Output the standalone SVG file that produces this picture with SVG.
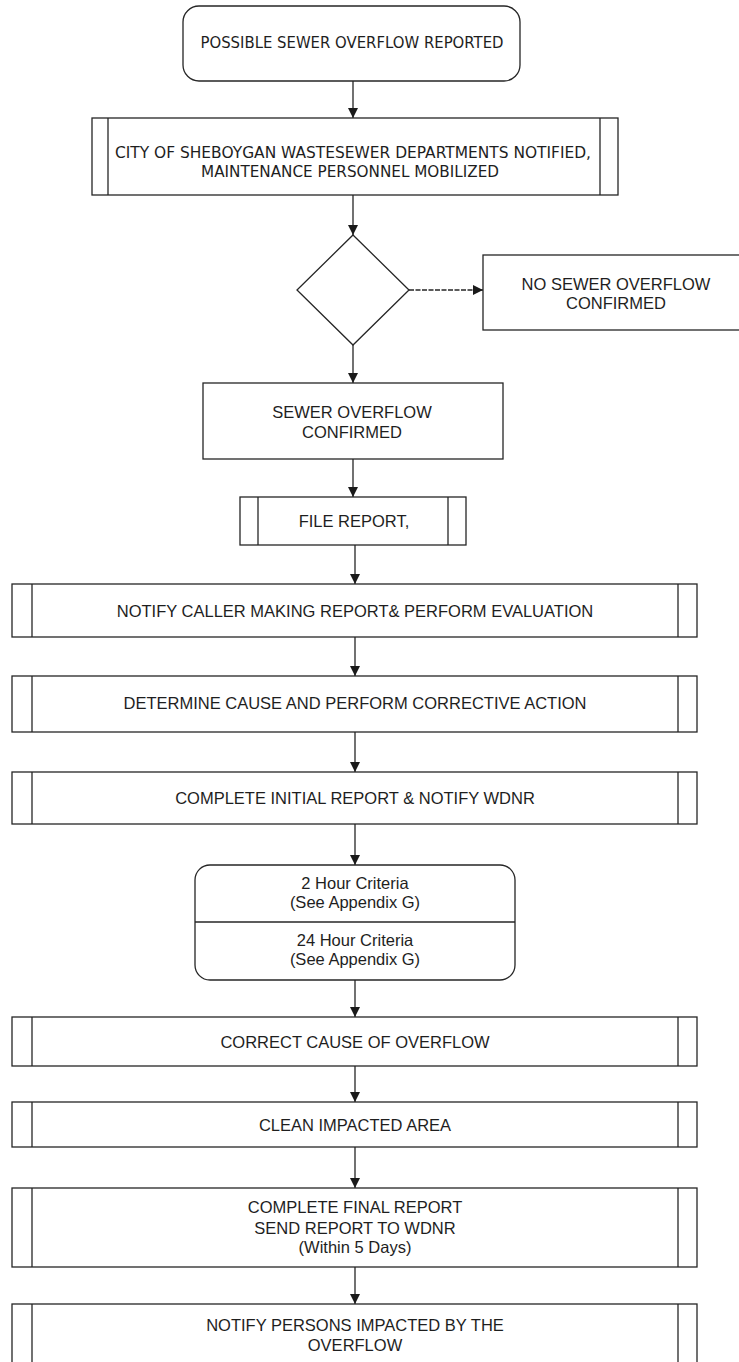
<svg xmlns="http://www.w3.org/2000/svg" width="739" height="1362" viewBox="0 0 739 1362">
<defs>
<marker id="ah" viewBox="0 0 10 10" refX="10" refY="5" markerWidth="10" markerHeight="10" markerUnits="userSpaceOnUse" orient="auto">
<path d="M0,0 L10,5 L0,10 Z" fill="#1a1a1a"/>
</marker>
<style>
.box{fill:#fff;stroke:#262626;stroke-width:1.3}
.ln{fill:none;stroke:#262626;stroke-width:1.3}
.c{stroke:#262626;stroke-width:1.3;fill:none;marker-end:url(#ah)}
.t{font-family:"Liberation Sans",Arial,sans-serif;font-size:16.5px;fill:#1e1e1e;text-anchor:middle}
.g{font-family:"DejaVu Sans","Liberation Sans",sans-serif;font-size:15px;fill:#1e1e1e;text-anchor:middle}
</style>
</defs>
<rect width="739" height="1362" fill="#fff"/>
<g id="connectors">
<line class="c" x1="353" y1="81" x2="353" y2="118"/>
<line class="c" x1="353" y1="195" x2="353" y2="235"/>
<line class="c" x1="409" y1="290" x2="483" y2="290" stroke-dasharray="5,1.5"/>
<line class="c" x1="353" y1="345" x2="353" y2="383"/>
<line class="c" x1="353" y1="459" x2="353" y2="497"/>
<line class="c" x1="355" y1="545" x2="355" y2="584"/>
<line class="c" x1="355" y1="637" x2="355" y2="676"/>
<line class="c" x1="355" y1="732" x2="355" y2="772"/>
<line class="c" x1="355" y1="824" x2="355" y2="865"/>
<line class="c" x1="355" y1="980" x2="355" y2="1017"/>
<line class="c" x1="355" y1="1066" x2="355" y2="1102"/>
<line class="c" x1="355" y1="1147" x2="355" y2="1188"/>
<line class="c" x1="355" y1="1267" x2="355" y2="1304"/>
</g>
<g id="start">
<rect class="box" x="183" y="6" width="337" height="75" rx="16"/>
<text class="g" x="352" y="48" textLength="303" lengthAdjust="spacingAndGlyphs">POSSIBLE SEWER OVERFLOW REPORTED</text>
</g>
<g id="notified">
<rect class="box" x="92" y="118" width="526" height="77"/>
<line class="ln" x1="108" y1="118" x2="108" y2="195"/>
<line class="ln" x1="600" y1="118" x2="600" y2="195"/>
<text class="g" x="353" y="158" textLength="476" lengthAdjust="spacingAndGlyphs">CITY OF SHEBOYGAN WASTESEWER DEPARTMENTS NOTIFIED,</text>
<text class="g" x="350" y="177" textLength="298" lengthAdjust="spacingAndGlyphs">MAINTENANCE PERSONNEL MOBILIZED</text>
</g>
<g id="decision">
<polygon class="box" points="353,235 409,290 353,345 297,290"/>
</g>
<g id="no-overflow">
<rect class="box" x="483" y="255" width="270" height="75"/>
<text class="t" x="616" y="290">NO SEWER OVERFLOW</text>
<text class="t" x="616" y="309">CONFIRMED</text>
</g>
<g id="overflow-confirmed">
<rect class="box" x="203" y="383" width="300" height="76"/>
<text class="t" x="352" y="418">SEWER OVERFLOW</text>
<text class="t" x="352" y="438">CONFIRMED</text>
</g>
<g id="file-report">
<rect class="box" x="240" y="497" width="226" height="48"/>
<line class="ln" x1="258" y1="497" x2="258" y2="545"/>
<line class="ln" x1="448" y1="497" x2="448" y2="545"/>
<text class="t" x="354" y="527">FILE REPORT,</text>
</g>
<g id="notify-caller">
<rect class="box" x="12" y="584" width="685" height="53"/>
<line class="ln" x1="32" y1="584" x2="32" y2="637"/>
<line class="ln" x1="678" y1="584" x2="678" y2="637"/>
<text class="t" x="355" y="617">NOTIFY CALLER MAKING REPORT&amp; PERFORM EVALUATION</text>
</g>
<g id="determine-cause">
<rect class="box" x="12" y="676" width="685" height="56"/>
<line class="ln" x1="32" y1="676" x2="32" y2="732"/>
<line class="ln" x1="678" y1="676" x2="678" y2="732"/>
<text class="t" x="355" y="709">DETERMINE CAUSE AND PERFORM CORRECTIVE ACTION</text>
</g>
<g id="initial-report">
<rect class="box" x="12" y="772" width="685" height="52"/>
<line class="ln" x1="32" y1="772" x2="32" y2="824"/>
<line class="ln" x1="678" y1="772" x2="678" y2="824"/>
<text class="t" x="355" y="804">COMPLETE INITIAL REPORT &amp; NOTIFY WDNR</text>
</g>
<g id="criteria">
<rect class="box" x="195" y="865" width="320" height="115" rx="15"/>
<line class="ln" x1="195" y1="922" x2="515" y2="922"/>
<text class="t" x="355" y="889" font-size="15.5">2 Hour Criteria</text>
<text class="t" x="355" y="908" font-size="15.5">(See Appendix G)</text>
<text class="t" x="355" y="946" font-size="15.5">24 Hour Criteria</text>
<text class="t" x="355" y="965" font-size="15.5">(See Appendix G)</text>
</g>
<g id="correct-cause">
<rect class="box" x="12" y="1017" width="685" height="49"/>
<line class="ln" x1="32" y1="1017" x2="32" y2="1066"/>
<line class="ln" x1="678" y1="1017" x2="678" y2="1066"/>
<text class="t" x="355" y="1048">CORRECT CAUSE OF OVERFLOW</text>
</g>
<g id="clean-area">
<rect class="box" x="12" y="1102" width="685" height="45"/>
<line class="ln" x1="32" y1="1102" x2="32" y2="1147"/>
<line class="ln" x1="678" y1="1102" x2="678" y2="1147"/>
<text class="t" x="355" y="1131">CLEAN IMPACTED AREA</text>
</g>
<g id="final-report">
<rect class="box" x="12" y="1188" width="685" height="79"/>
<line class="ln" x1="32" y1="1188" x2="32" y2="1267"/>
<line class="ln" x1="678" y1="1188" x2="678" y2="1267"/>
<text class="t" x="355" y="1213">COMPLETE FINAL REPORT</text>
<text class="t" x="355" y="1234">SEND REPORT TO WDNR</text>
<text class="t" x="355" y="1253">(Within 5 Days)</text>
</g>
<g id="notify-persons">
<rect class="box" x="12" y="1304" width="685" height="70"/>
<line class="ln" x1="32" y1="1304" x2="32" y2="1374"/>
<line class="ln" x1="678" y1="1304" x2="678" y2="1374"/>
<text class="t" x="355" y="1331">NOTIFY PERSONS IMPACTED BY THE</text>
<text class="t" x="355" y="1351">OVERFLOW</text>
</g>
</svg>
